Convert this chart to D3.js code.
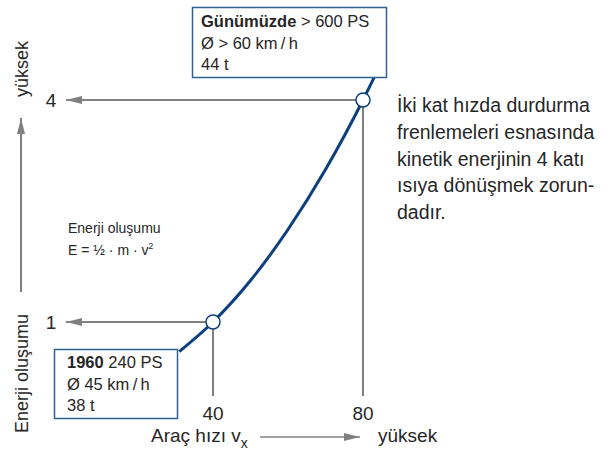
<!DOCTYPE html>
<html><head><meta charset="utf-8">
<script src="https://cdn.jsdelivr.net/npm/d3@7"></script>
<style>
body{margin:0;background:#fff;}
text{font-family:"Liberation Sans",Arial,sans-serif;fill:#262626;}
</style></head>
<body>
<svg id="c" width="614" height="457"></svg>
<script>
// Data
const speeds = [31, 40, 50, 60, 70, 80, 83.3];          // vehicle speed (km/h)
const energies = [0.6, 1, 1.56, 2.25, 3.06, 4, 4.34];   // relative energy
const markedSpeeds = [40, 80];
const markedEnergies = [1, 4];
const xTickLabels = ["40", "80"];
const yTickLabels = ["1", "4"];
const box1960 = ["1960", " 240 PS", "Ø 45 km\u2009/\u2009h", "38 t"];
const boxToday = ["Günümüzde", " > 600 PS", "Ø > 60 km\u2009/\u2009h", "44 t"];
const noteLines = ["İki kat hızda durdurma", "frenlemeleri esnasında", "kinetik enerjinin 4 katı", "ısıya dönüşmek zorun-", "dadır."];

const svg = d3.select("#c");
const x = d3.scaleLinear().domain([0, 80]).range([63, 363]);
const y = d3.scaleLinear().domain([0, 4]).range([396, 100]);
const grey = "#808080", blue = "#0c3f7e", boxBlue = "#2f5f93";

const defs = svg.append("defs");
defs.append("marker").attr("id", "ah").attr("viewBox", "0 0 16 8")
  .attr("refX", 16).attr("refY", 4).attr("markerWidth", 16).attr("markerHeight", 8)
  .attr("markerUnits", "userSpaceOnUse").attr("orient", "auto")
  .append("path").attr("d", "M0,0L16,4L0,8Z").attr("fill", grey);

// vertical drop lines
svg.selectAll(".vl").data(markedSpeeds).enter().append("line")
  .attr("x1", d => x(d)).attr("x2", d => x(d))
  .attr("y1", (d,i) => y(markedEnergies[i])).attr("y2", y(0))
  .attr("stroke", grey).attr("stroke-width", 2);
// horizontal arrows to the y ticks
svg.selectAll(".hl").data(markedEnergies).enter().append("line")
  .attr("x1", (d,i) => x(markedSpeeds[i])).attr("x2", 66)
  .attr("y1", d => y(d)).attr("y2", d => y(d))
  .attr("stroke", grey).attr("stroke-width", 2).attr("marker-end", "url(#ah)");

// y tick labels
svg.selectAll(".yt").data(markedEnergies).enter().append("text")
  .attr("x", 51).attr("y", d => y(d) + 7).attr("text-anchor", "middle")
  .attr("font-size", 19).text((d,i) => yTickLabels[i]);
// x tick labels
svg.selectAll(".xt").data(markedSpeeds).enter().append("text")
  .attr("x", d => x(d)).attr("y", 420).attr("text-anchor", "middle")
  .attr("font-size", 19).text((d,i) => xTickLabels[i]);

// curve
const pts = speeds.map((s,i) => [x(s), y(energies[i])]);
svg.append("path").attr("d", d3.line().curve(d3.curveMonotoneX)(pts))
  .attr("fill", "none").attr("stroke", blue).attr("stroke-width", 3);

// circles
svg.selectAll(".pt").data(markedSpeeds).enter().append("circle")
  .attr("cx", d => x(d)).attr("cy", (d,i) => y(markedEnergies[i])).attr("r", 7)
  .attr("fill", "#fff").attr("stroke", blue).attr("stroke-width", 1.5);

// boxes
function box(x0, y0, w, h, lines, tx, ty, lh){
  svg.append("rect").attr("x", x0).attr("y", y0).attr("width", w).attr("height", h)
    .attr("fill", "#fff").attr("stroke", boxBlue).attr("stroke-width", 1.5);
  const t = svg.append("text").attr("x", tx).attr("y", ty).attr("font-size", 16.5);
  t.append("tspan").attr("font-weight", "bold").text(lines[0]);
  t.append("tspan").text(lines[1]);
  svg.append("text").attr("x", tx).attr("y", ty + lh).attr("font-size", 16.5).text(lines[2]);
  svg.append("text").attr("x", tx).attr("y", ty + 2*lh).attr("font-size", 16.5).text(lines[3]);
}
box(192.5, 7.5, 194, 70, boxToday, 201, 27, 21.5);
box(54.5, 349.5, 123, 69, box1960, 67, 368, 21.5);

// energy formula annotation
svg.append("text").attr("x", 68).attr("y", 233).attr("font-size", 14).text("Enerji oluşumu");
const f = svg.append("text").attr("x", 68).attr("y", 255).attr("font-size", 14);
f.append("tspan").text("E = ½ · m · v");
f.append("tspan").attr("font-size", 8.5).attr("dy", -6).text("2");

// note text
svg.selectAll(".nt").data(noteLines).enter().append("text")
  .attr("x", 397).attr("y", (d,i) => 112 + i*26.8).attr("font-size", 19.5).text(d => d);

// y axis arrow and labels
svg.append("line").attr("x1", 21).attr("x2", 21).attr("y1", 292).attr("y2", 118)
  .attr("stroke", grey).attr("stroke-width", 2).attr("marker-end", "url(#ah)");
svg.append("text").attr("transform", "translate(28,433) rotate(-90)")
  .attr("font-size", 18).text("Enerji oluşumu");
svg.append("text").attr("transform", "translate(28,97) rotate(-90)")
  .attr("font-size", 18).text("yüksek");

// x axis label and arrow
const xl = svg.append("text").attr("x", 151).attr("y", 442).attr("font-size", 19);
xl.append("tspan").text("Araç hızı v");
xl.append("tspan").attr("font-size", 14).attr("dy", 6).text("x");
svg.append("line").attr("x1", 260).attr("x2", 360).attr("y1", 437).attr("y2", 437)
  .attr("stroke", grey).attr("stroke-width", 1.5).attr("marker-end", "url(#ah)");
svg.append("text").attr("x", 378).attr("y", 442).attr("font-size", 19).text("yüksek");
</script>
</body></html>
